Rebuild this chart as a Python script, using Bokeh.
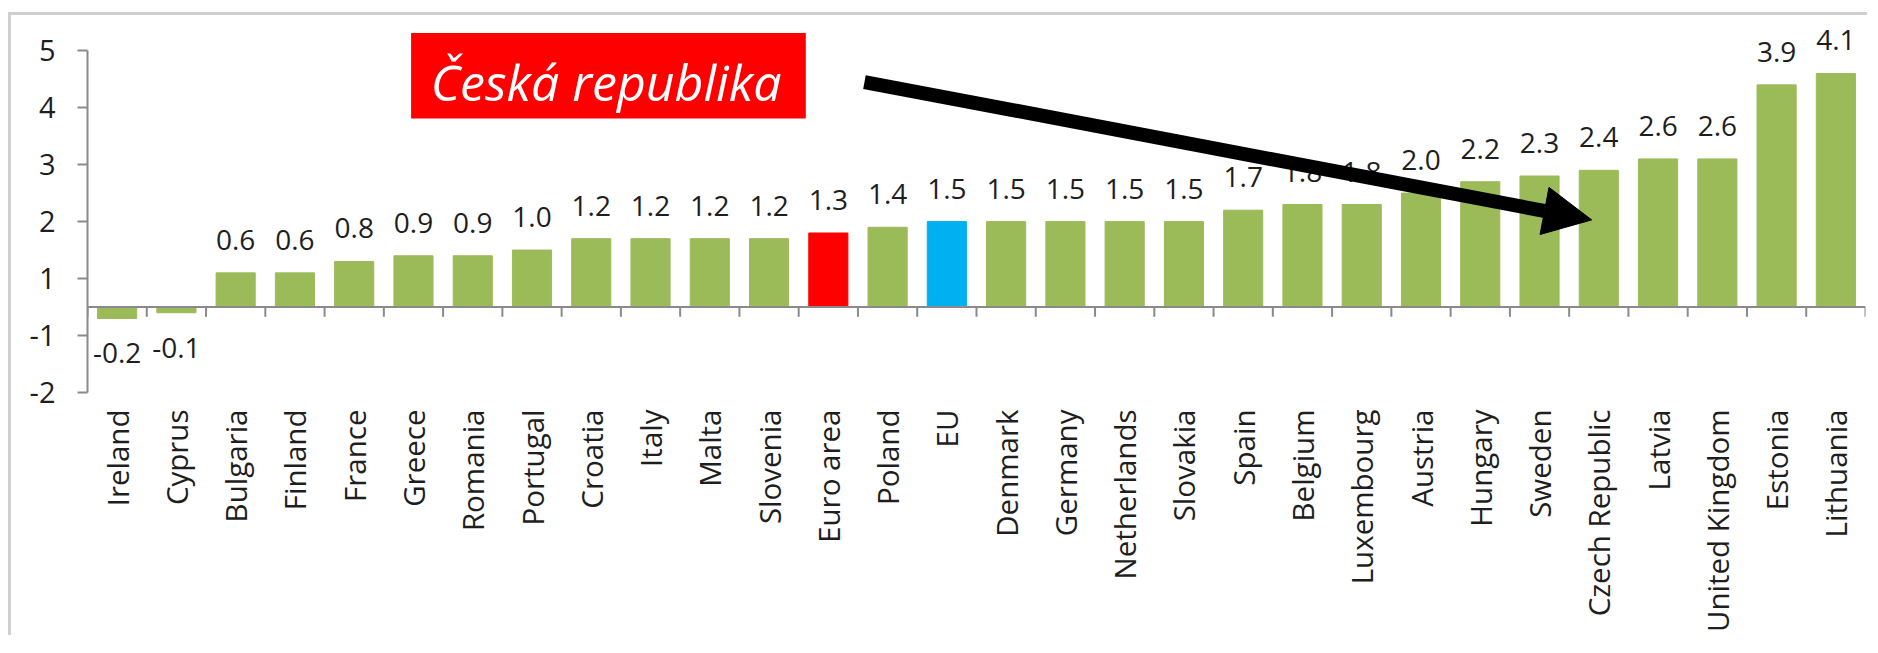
import math
from bokeh.plotting import figure
from bokeh.models import (Range1d, FixedTicker, Arrow, NormalHead, Label,
                          ColumnDataSource, Span, BoxAnnotation)
from bokeh.embed import file_html
from bokeh.resources import INLINE
from bokeh.core.properties import value

countries = ["Ireland", "Cyprus", "Bulgaria", "Finland", "France", "Greece", "Romania",
             "Portugal", "Croatia", "Italy", "Malta", "Slovenia", "Euro area", "Poland",
             "EU", "Denmark", "Germany", "Netherlands", "Slovakia", "Spain", "Belgium",
             "Luxembourg", "Austria", "Hungary", "Sweden", "Czech Republic", "Latvia",
             "United Kingdom", "Estonia", "Lithuania"]
values = [-0.2, -0.1, 0.6, 0.6, 0.8, 0.9, 0.9, 1.0, 1.2, 1.2, 1.2, 1.2, 1.3, 1.4,
          1.5, 1.5, 1.5, 1.5, 1.5, 1.7, 1.8, 1.8, 2.0, 2.2, 2.3, 2.4, 2.6, 2.6, 3.9, 4.1]
y_tick_values = [-1.5, -0.5, 0.5, 1.5, 2.5, 3.5, 4.5]
y_tick_labels = ["-2", "-1", "1", "2", "3", "4", "5"]
annotation_text = "Česká republika"

GREEN, RED, BLUE = "#9BBB59", "#FF0000", "#00B0F0"
highlight = {"Euro area": RED, "EU": BLUE}
FONT = "Open Sans"
TXT = "#1e1e1e"
AXIS = "#8a8a8a"
FRAME_BORDER = "#cfcfcf"

n = len(countries)
xs = list(range(n))
colors = [highlight.get(c, GREEN) for c in countries]
labels = [f"{v:.1f}" for v in values]
offsets = [-33 if v >= 0 else 35 for v in values]
src = ColumnDataSource(dict(x=xs, top=values, color=colors, label=labels, yoff=offsets))

# geometry (pixels)
LEFT, RIGHT, TOP = 87, 2, 16
FRAME_W = 1778
W = LEFT + FRAME_W + RIGHT
Y0, Y1, AX_TOP = -1.5, 5.1, 4.5
FRAME_H = 384
H = 635
BOTTOM = H - TOP - FRAME_H
PX_Y = FRAME_H / (Y1 - Y0)

p = figure(width=W, height=H, x_range=Range1d(-0.5, n - 0.5),
           y_range=Range1d(Y0, Y1), output_backend="svg", toolbar_location=None,
           min_border_left=LEFT, min_border_right=RIGHT, min_border_top=TOP,
           min_border_bottom=BOTTOM)
p.outline_line_color = None
p.grid.visible = False
p.background_fill_color = "white"
p.border_fill_alpha = 0
# light outer chart border (left and top edges only)
grad = f"linear-gradient({FRAME_BORDER}, {FRAME_BORDER})"
p.styles = {"background-image": f"{grad}, {grad}",
            "background-size": "3px 100%, 100% 3px",
            "background-position": "8px 12px, 8px 12px",
            "background-repeat": "no-repeat",
            "background-color": "white"}

# annotation box (drawn behind everything else)
p.add_layout(BoxAnnotation(left=4.96, right=11.62, top=4.81, bottom=3.31,
                           fill_color=RED, fill_alpha=1, line_color=None, level="underlay"))

p.vbar(x="x", top="top", width=0.66, color="color", source=src)
p.text(x="x", y="top", text="label", source=src, y_offset="yoff",
       text_align="center", text_baseline="alphabetic",
       text_font=value(FONT), text_font_size="28px", text_color=TXT)

# zero line with ticks at the category boundaries
p.add_layout(Span(location=0, dimension="width", line_color=AXIS, line_width=2))
tick_len = 10 / PX_Y
bounds = [i - 0.5 for i in range(n + 1)]
p.segment(x0=bounds, y0=[0] * len(bounds), x1=bounds, y1=[-tick_len] * len(bounds),
          line_color=AXIS, line_width=2)

# category labels axis (bottom)
xa = p.xaxis[0]
xa.ticker = FixedTicker(ticks=xs)
xa.major_label_overrides = dict(zip(xs, countries))
xa.axis_line_color = None
xa.major_tick_line_color = None
xa.minor_tick_line_color = None
xa.major_tick_out = 0
xa.major_tick_in = 0
xa.major_label_orientation = math.pi / 2
xa.major_label_standoff = 17
xa.major_label_text_font = FONT
xa.major_label_text_font_size = "29.5px"
xa.major_label_text_color = TXT

ya = p.yaxis[0]
ya.ticker = FixedTicker(ticks=y_tick_values)
ya.major_label_overrides = dict(zip(y_tick_values, y_tick_labels))
ya.bounds = (Y0, AX_TOP)
ya.axis_line_color = AXIS
ya.axis_line_width = 2
ya.major_tick_line_color = AXIS
ya.major_tick_line_width = 2
ya.major_tick_out = 10
ya.major_tick_in = 0
ya.minor_tick_line_color = None
ya.major_label_standoff = 22
ya.major_label_text_font = FONT
ya.major_label_text_font_size = "29px"
ya.major_label_text_color = TXT

lab = Label(x=8.25, y=3.95, text=annotation_text,
            text_align="center", text_baseline="alphabetic",
            text_font=FONT, text_font_size="50px", text_font_style="italic",
            text_color="white")
p.add_layout(lab)

arrow = Arrow(x_start=12.61, y_start=3.95, x_end=24.88, y_end=1.53,
              line_color="black", line_width=14,
              end=NormalHead(size=48, fill_color="black", line_color="black"))
p.add_layout(arrow)

open("out.html", "w").write(file_html(p, INLINE))
